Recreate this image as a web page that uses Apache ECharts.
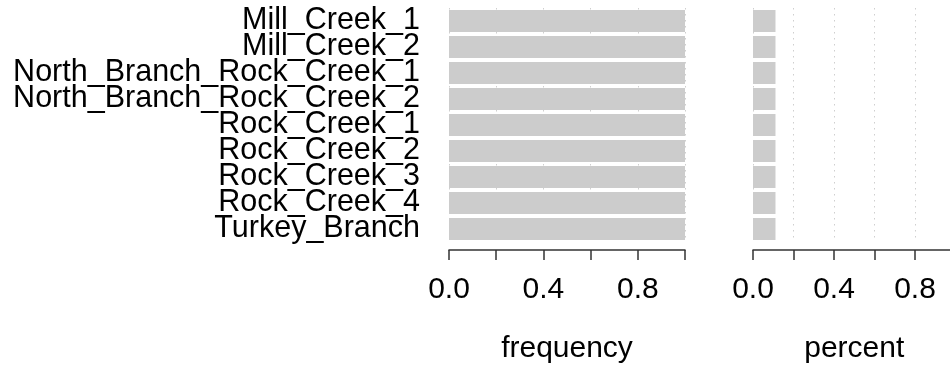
<!DOCTYPE html>
<html>
<head>
<meta charset="utf-8">
<script src="https://cdn.jsdelivr.net/npm/echarts@6/dist/echarts.min.js"></script>
<style>
  html, body { margin: 0; padding: 0; background: #fff; }
  #chart { width: 950px; height: 365px; }
</style>
</head>
<body>
<div id="chart"></div>
<script>
// Sites, with how often each occurs and its share of the total
const sites = [
  'Mill_Creek_1', 'Mill_Creek_2', 'North_Branch_Rock_Creek_1', 'North_Branch_Rock_Creek_2',
  'Rock_Creek_1', 'Rock_Creek_2', 'Rock_Creek_3', 'Rock_Creek_4', 'Turkey_Branch'
];
const frequency = [1, 1, 1, 1, 1, 1, 1, 1, 1];
const percent = [0.1111, 0.1111, 0.1111, 0.1111, 0.1111, 0.1111, 0.1111, 0.1111, 0.1111];
const shownTicks = ['0.0', '0.4', '0.8'];

const FONT = '"Liberation Sans", Arial, Helvetica, sans-serif';
const BAR = '#cccccc';
const GRID_TOP = 8, GRID_H = 234;

function valueAxis(gridIndex, name) {
  return {
    type: 'value', gridIndex, min: 0, max: 1, interval: 0.2,
    position: 'bottom', offset: 8,
    name, nameLocation: 'middle', nameGap: 84,
    nameTextStyle: { fontFamily: FONT, fontSize: 30, color: '#000' },
    axisLine: { show: true, lineStyle: { color: '#333', width: 1.5 } },
    axisTick: { show: true, length: 10, lineStyle: { color: '#333', width: 1.5 } },
    axisLabel: {
      fontFamily: FONT, fontSize: 30, color: '#000', margin: 25,
      formatter: v => { const s = v.toFixed(1); return shownTicks.includes(s) ? s : ''; }
    },
    splitLine: { show: true, lineStyle: { type: [1.5, 4.5], color: '#cfcfcf', width: 1 } }
  };
}

function catAxis(gridIndex, showLabels) {
  return {
    type: 'category', gridIndex, data: sites, inverse: true,
    axisLine: { show: false }, axisTick: { show: false },
    axisLabel: showLabels
      ? { interval: 0, fontFamily: FONT, fontSize: 30.5, color: '#000', margin: 29, lineHeight: 26 }
      : { show: false },
    splitLine: { show: false }
  };
}

const chart = echarts.init(document.getElementById('chart'), null, { renderer: 'canvas' });
chart.setOption({
  animation: false,
  backgroundColor: '#fff',
  grid: [
    { left: 449, top: GRID_TOP, width: 236, height: GRID_H, containLabel: false, outerBoundsMode: 'none' },
    { left: 753, top: GRID_TOP, width: 202.5, height: GRID_H, containLabel: false, outerBoundsMode: 'none' }
  ],
  xAxis: [valueAxis(0, 'frequency'), valueAxis(1, 'percent')],
  yAxis: [catAxis(0, true), catAxis(1, false)],
  series: [
    { type: 'bar', xAxisIndex: 0, yAxisIndex: 0, data: frequency, barWidth: 22,
      itemStyle: { color: BAR } },
    { type: 'bar', xAxisIndex: 1, yAxisIndex: 1, data: percent, barWidth: 22,
      itemStyle: { color: BAR } }
  ]
});
</script>
</body>
</html>
